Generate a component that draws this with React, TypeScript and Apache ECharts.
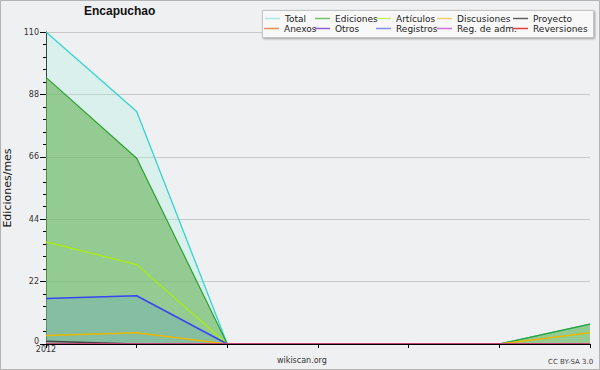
import React, { useEffect, useRef } from "react";
import * as echarts from "echarts";

const categories = ["2012-01", "2012-02", "2012-03", "2012-04", "2012-05", "2012-06", "2012-07"];
const tickLabels = ["2012", "", "", "", "", "", ""];
const yTicks = [0, 22, 44, 66, 88, 110];

const total = [110, 82, 0, 0, 0, 0, 7];
const ediciones = [94, 65.5, 0, 0, 0, 0, 7];
const articulos = [36, 28, 0, 0, 0, 0, 0];
const discusiones = [3, 4, 0, 0, 0, 0, 4];
const proyecto = [1, 0, 0, 0, 0, 0, 0];
const anexos = [0, 0, 0, 0, 0, 0, 0];
const otros = [0, 0, 0, 0, 0, 0, 0];
const registros = [16, 17, 0, 0, 0, 0, 0];
const regAdm = [0, 0, 0, 0, 0, 0, 0];
const reversiones = [0, 0, 0, 0, 0, 0, 0];

const legendRow1 = ["Total", "Ediciones", "Artículos", "Discusiones", "Proyecto"];
const legendRow2 = ["Anexos", "Otros", "Registros", "Reg. de adm.", "Reversiones"];

export default function App() {
  const ref = useRef<HTMLDivElement>(null);
  useEffect(() => {
    if (!ref.current) return;
    const chart = echarts.init(ref.current, undefined, { renderer: "svg" });

    const seriesDefs = [
      { name: "Total", data: total, line: "#35d4d0", legend: "#a6e8e2", width: 1.3, area: "rgba(166,243,224,0.3)" },
      { name: "Ediciones", data: ediciones, line: "#2ea02e", legend: "#72c072", width: 1.2, area: "rgba(100,178,88,0.6)" },
      { name: "Artículos", data: articulos, line: "#a8f000", legend: "#c8f070", width: 1.2, area: null },
      { name: "Registros", data: registros, line: "#3546f2", legend: "#8090f0", width: 1.5, area: "rgba(107,163,200,0.3)" },
      { name: "Discusiones", data: discusiones, line: "#e8b800", legend: "#f0d070", width: 1.5, area: null },
      { name: "Proyecto", data: proyecto, line: "#444444", legend: "#606060", width: 1.5, area: null },
      { name: "Anexos", data: anexos, line: "#f08040", legend: "#f09060", width: 1, area: null },
      { name: "Otros", data: otros, line: "#8040c0", legend: "#9060d0", width: 1, area: null },
      { name: "Reg. de adm.", data: regAdm, line: "#c050e0", legend: "#d070e0", width: 1, area: null },
      { name: "Reversiones", data: reversiones, line: "#e03030", legend: "#e04040", width: 1, area: null },
    ];
    const legendColor: Record<string, string> = {};
    seriesDefs.forEach((s) => (legendColor[s.name] = s.legend));

    const col1Text = [285, 335, 396, 457, 533];
    const col2Text = [284, 335, 396, 457, 533];
    const legends: any[] = [];
    const mkLegend = (n: string, left: number, top: number) => ({
      data: [{ name: n, itemStyle: { color: legendColor[n] } }],
      left,
      top,
      padding: 0,
      icon: "rect",
      itemWidth: 15,
      itemHeight: 1.5,
      selectedMode: false,
      textStyle: { fontFamily: "DejaVu Sans", fontSize: 9, color: "#222" },
      z: 6,
    });
    legendRow1.forEach((n, i) => legends.push(mkLegend(n, col1Text[i] - 20, 14)));
    legendRow2.forEach((n, i) => legends.push(mkLegend(n, col2Text[i] - 20, 24)));

    chart.setOption({
      animation: false,
      backgroundColor: "#eff0f1",
      title: {
        text: "Encapuchao",
        left: 84,
        top: 5,
        padding: 0,
        textStyle: { fontFamily: "Liberation Sans", fontWeight: "bold", fontSize: 12, color: "#111" },
      },
      legend: legends,
      graphic: [
        {
          type: "rect",
          shape: { x: 0.5, y: 0.5, width: 599, height: 369 },
          style: { fill: "none", stroke: "#b4b4b4", lineWidth: 1 },
          silent: true,
          z: 100,
        },
        {
          type: "rect",
          shape: { x: 262.5, y: 10.5, width: 331, height: 27 },
          style: {
            fill: "#f8f8f8",
            stroke: "#c4c4c4",
            lineWidth: 1,
            shadowBlur: 2,
            shadowOffsetX: 1,
            shadowOffsetY: 1,
            shadowColor: "rgba(0,0,0,0.35)",
          },
          silent: true,
          z: 4,
        },
        {
          type: "text",
          left: 277,
          top: 356,
          style: { text: "wikiscan.org", fontFamily: "DejaVu Sans", fontSize: 8, fill: "#333" },
          silent: true,
        },
        {
          type: "text",
          left: 548,
          top: 358,
          style: { text: "CC BY-SA 3.0", fontFamily: "DejaVu Sans", fontSize: 7, fill: "#444" },
          silent: true,
        },
      ],
      grid: { left: 46, right: 10, top: 32, bottom: 26, containLabel: false, outerBoundsMode: "none" },
      xAxis: {
        type: "category",
        data: categories,
        boundaryGap: false,
        z: 5,
        axisLine: { lineStyle: { color: "#000", width: 1 } },
        axisTick: { show: true, length: 4, inside: false, alignWithLabel: true, interval: 0, lineStyle: { color: "#000" } },
        axisLabel: {
          interval: 0,
          margin: 1,
          fontFamily: "DejaVu Sans",
          fontSize: 8,
          color: "#333",
          formatter: (_v: string, i: number) => tickLabels[i],
        },
        splitLine: { show: false },
      },
      yAxis: {
        type: "value",
        min: yTicks[0],
        max: yTicks[yTicks.length - 1],
        interval: yTicks[1] - yTicks[0],
        name: "Ediciones/mes",
        nameLocation: "middle",
        nameGap: 27,
        nameTextStyle: { fontFamily: "DejaVu Sans", fontSize: 11, color: "#111" },
        axisLine: { show: true, lineStyle: { color: "#000", width: 1 } },
        axisTick: { show: true, length: 6, lineStyle: { color: "#000" } },
        minorTick: { show: true, splitNumber: 5, length: 3, lineStyle: { color: "#000" } },
        axisLabel: {
          margin: 7,
          fontFamily: "DejaVu Sans",
          fontSize: 8,
          color: "#333",
          formatter: (v: number) => (v === 0 ? "{z|0}" : String(v)),
          rich: { z: { fontFamily: "DejaVu Sans", fontSize: 8, color: "#333", padding: [0, 0, 5, 0] } },
        },
        splitLine: { show: true, lineStyle: { color: "#c8c8c8", width: 1 } },
      },
      series: seriesDefs.map((s) => ({
        name: s.name,
        type: "line",
        data: s.data,
        symbol: "none",
        color: s.line,
        lineStyle: { color: s.line, width: s.width },
        areaStyle: s.area ? { color: s.area, opacity: 1 } : undefined,
        z: 2,
      })),
    });
    return () => chart.dispose();
  }, []);
  return (
    <div
      ref={ref}
      style={{ position: "fixed", left: 0, top: 0, width: 600, height: 370 }}
    />
  );
}
